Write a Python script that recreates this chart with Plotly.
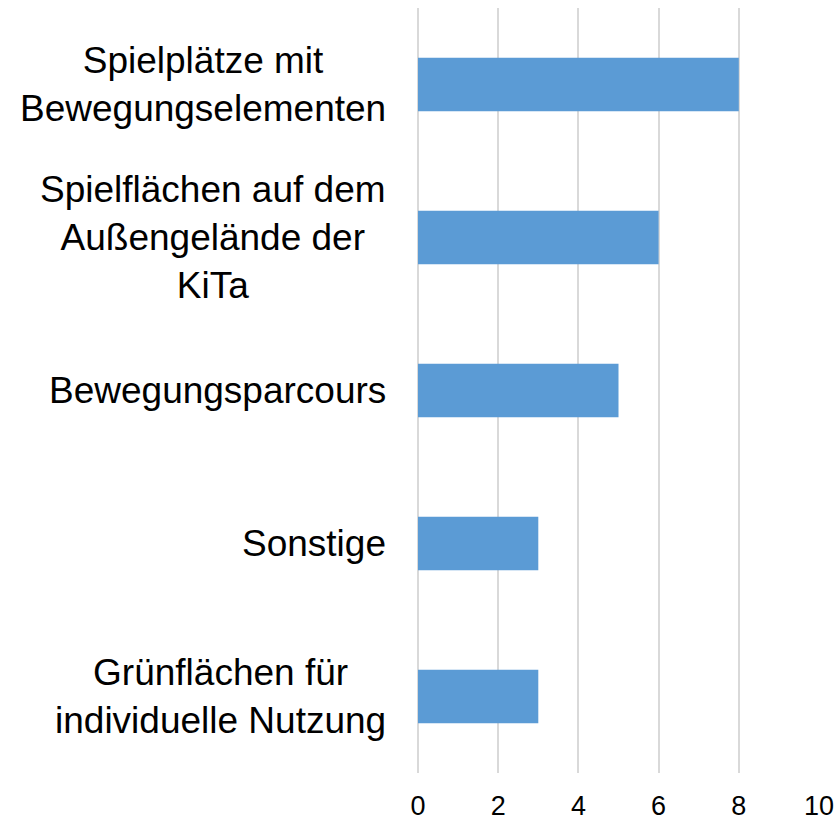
import plotly.graph_objects as go

# Kategorien (von oben nach unten) und Werte
categories = [
    "Spielplätze mit<br>Bewegungselementen",
    "Spielflächen auf dem<br>Außengelände der<br>KiTa",
    "Bewegungsparcours",
    "Sonstige",
    "Grünflächen für<br>individuelle Nutzung",
]
values = [8, 6, 5, 3, 3]
x_ticks = [0, 2, 4, 6, 8, 10]

fig = go.Figure()

fig.add_trace(
    go.Bar(
        x=values,
        y=categories,
        orientation="h",
        marker=dict(color="#5B9BD5", line=dict(width=0)),
        showlegend=False,
    )
)

# Kategorienbeschriftung als Annotation, damit mehrzeilige Texte zentriert sind
for cat in categories:
    fig.add_annotation(
        x=0, xref="paper",
        y=cat, yref="y",
        text=cat,
        showarrow=False,
        xanchor="right",
        xshift=-30,
        align="center",
        font=dict(size=37, color="black"),
    )

fig.update_layout(
    width=836,
    height=820,
    margin=dict(l=418, r=17, t=8, b=47),
    paper_bgcolor="white",
    plot_bgcolor="white",
    bargap=0.65,
    font=dict(family="Liberation Sans, Arial, sans-serif", color="black"),
)

fig.update_xaxes(
    range=[0, 10],
    tickvals=x_ticks,
    showgrid=True,
    gridcolor="#D9D9D9",
    gridwidth=1.5,
    zeroline=True,
    zerolinecolor="#D9D9D9",
    zerolinewidth=1.5,
    showline=False,
    tickfont=dict(size=27),
    ticklabelstandoff=14,
    automargin=False,
)

fig.update_yaxes(
    autorange="reversed",
    showgrid=False,
    showline=False,
    showticklabels=False,
    automargin=False,
)

# Standard-Seitenrand des Browsers entfernen, Modebar ausblenden
fig.write_html(
    "out.html",
    config={"displayModeBar": False},
    post_script="document.body.style.margin='0';document.body.style.overflow='hidden';",
)
